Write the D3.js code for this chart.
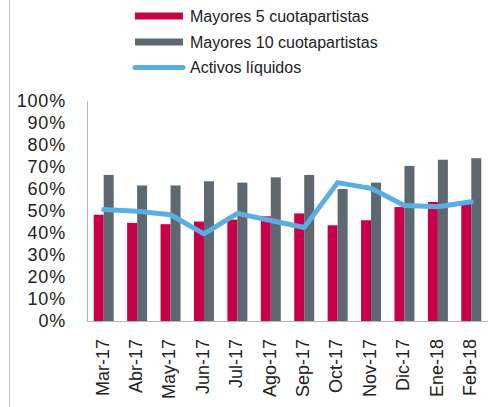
<!DOCTYPE html>
<html><head><meta charset="utf-8">
<script src="https://cdn.jsdelivr.net/npm/d3@7"></script>
<style>body{margin:0;background:#fff;}svg{display:block;font-family:"Liberation Sans",Arial,sans-serif;}</style>
</head><body>
<svg id="c" width="489" height="407"></svg>
<script>
const categories = ["Mar-17","Abr-17","May-17","Jun-17","Jul-17","Ago-17","Sep-17","Oct-17","Nov-17","Dic-17","Ene-18","Feb-18"];
const top5 = [48.3,44.6,44.0,45.2,46.1,47.6,48.9,43.5,45.8,51.8,54.1,53.3];
const top10 = [66.4,61.6,61.6,63.5,62.9,65.3,66.4,60.0,62.9,70.5,73.3,74.0];
const liquid = [50.7,49.9,48.3,39.6,48.9,45.7,42.5,62.9,60.3,52.5,51.9,54.2];
const yTicks = [0,10,20,30,40,50,60,70,80,90,100];
const seriesNames = ["Mayores 5 cuotapartistas","Mayores 10 cuotapartistas","Activos líquidos"];
const colors = ["#C8004A","#5E6870","#5BAEE2"];

const svg = d3.select("#c");
const m = {l:87, r:488, t:101, b:321};
const x = d3.scaleBand().domain(categories).range([m.l, m.r]).paddingInner(0).paddingOuter(0);
const y = d3.scaleLinear().domain([0,100]).range([m.b, m.t]);
const barW = 10;

// left frame line
svg.append("line").attr("x1",9.5).attr("x2",9.5).attr("y1",0).attr("y2",407).attr("stroke","#c8c8c8").attr("stroke-width",1);

// bars
svg.append("g").selectAll("rect").data(categories).join("rect")
  .attr("x", d => x(d) + x.bandwidth()/2 - barW)
  .attr("y", (d,i) => y(top5[i]))
  .attr("width", barW)
  .attr("height", (d,i) => y(0) - y(top5[i]))
  .attr("fill", colors[0]);
svg.append("g").selectAll("rect").data(categories).join("rect")
  .attr("x", d => x(d) + x.bandwidth()/2)
  .attr("y", (d,i) => y(top10[i]))
  .attr("width", barW)
  .attr("height", (d,i) => y(0) - y(top10[i]))
  .attr("fill", colors[1]);

// line
const line = d3.line().x((d,i) => x(categories[i]) + x.bandwidth()/2).y(d => y(d));
svg.append("path").datum(liquid).attr("d", line).attr("fill","none")
  .attr("stroke", colors[2]).attr("stroke-width",5).attr("stroke-linejoin","round").attr("stroke-linecap","round");

// axes
svg.append("line").attr("x1",m.l+0.5).attr("x2",m.l+0.5).attr("y1",m.t).attr("y2",m.b).attr("stroke","#b4b4b4");
svg.append("line").attr("x1",m.l).attr("x2",m.r).attr("y1",m.b+0.5).attr("y2",m.b+0.5).attr("stroke","#b4b4b4");

// y labels
svg.append("g").selectAll("text").data(yTicks).join("text")
  .attr("x", 66).attr("y", d => y(d)).attr("dy","0.36em")
  .attr("text-anchor","end").attr("font-size",18).attr("letter-spacing","0.8px").attr("fill","#222")
  .text(d => d + "%");

// x labels
svg.append("g").selectAll("text").data(categories).join("text")
  .attr("transform", d => `translate(${x(d)+x.bandwidth()/2-1.5},339) rotate(-90)`)
  .attr("dy","0.35em").attr("text-anchor","end").attr("font-size",18).attr("fill","#222")
  .text(d => d);

// legend
const ly = [16, 42, 67.5];
const lw = [7, 7, 5];
const lg = svg.append("g");
seriesNames.forEach((n,i) => {
  lg.append("line").attr("x1",135).attr("x2",183).attr("y1",ly[i]).attr("y2",ly[i])
    .attr("stroke",colors[i]).attr("stroke-width",lw[i]).attr("stroke-linecap", i===2 ? "round" : "butt");
  lg.append("text").attr("x",190).attr("y",ly[i]).attr("dy","0.36em").attr("font-size",16).attr("fill","#222").text(n);
});
</script>
</body></html>
